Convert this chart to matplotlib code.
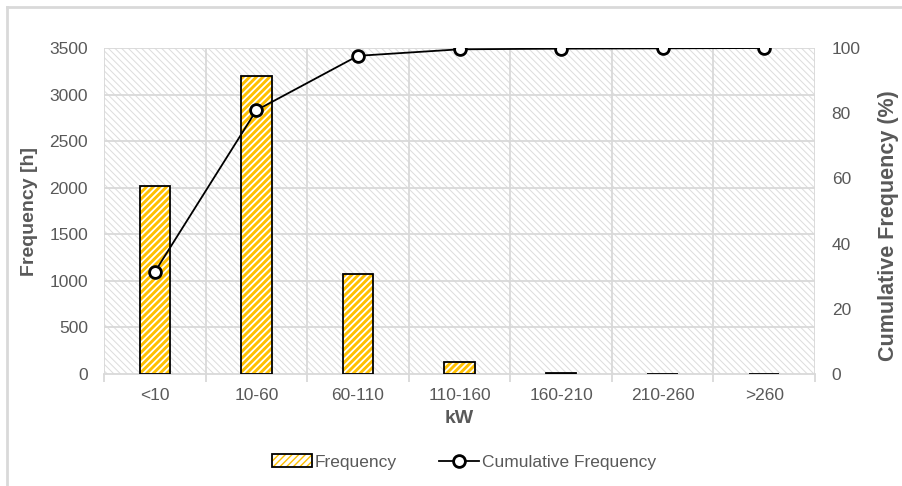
import matplotlib
matplotlib.use("Agg")
import matplotlib.pyplot as plt
from matplotlib.patches import Rectangle, Patch
from matplotlib.lines import Line2D
from matplotlib.legend_handler import HandlerTuple
import numpy as np

plt.rcParams['font.family'] = ['Liberation Sans', 'DejaVu Sans']

categories = ["<10", "10-60", "60-110", "110-160", "160-210", "210-260", ">260"]
frequency = [2020, 3200, 1075, 130, 15, 5, 5]
cumulative = [31.3, 80.9, 97.6, 99.6, 99.8, 99.9, 100.0]
left_ticks = [0, 500, 1000, 1500, 2000, 2500, 3000, 3500]
right_ticks = [0, 20, 40, 60, 80, 100]

TEXT = "#595959"
GRID = "#d9d9d9"
GOLD = "#FFC000"
BAR_HATCH = "/////"
BAR_HATCH_LW = 2.1

fig = plt.figure(figsize=(9.02, 4.86), dpi=100)
W, H = 902, 486
ax = fig.add_axes([104 / W, 1 - 374 / H, (815 - 104) / W, (374 - 48) / H])

x = np.arange(len(categories))
ax.set_xlim(-0.5, len(categories) - 0.5)
ax.set_ylim(0, 3500)

# fine diagonal texture behind the plot area
with plt.rc_context({'hatch.linewidth': 0.7}):
    bg = Rectangle((0, 0), 1, 1, transform=ax.transAxes, facecolor="white",
                   edgecolor="#dcdcdc", hatch="\\\\\\\\\\", linewidth=0, zorder=0)
ax.add_patch(bg)

# grid lines
for yv in left_ticks[1:]:
    ax.axhline(yv, color=GRID, lw=1.3, zorder=1)
for b in np.arange(-0.5, len(categories) + 0.5, 1):
    ax.axvline(b, color=GRID, lw=1.3, zorder=1)

# hatched bars with black outline
with plt.rc_context({'hatch.linewidth': BAR_HATCH_LW}):
    ax.bar(x, frequency, width=0.3, color="white", edgecolor=GOLD,
           hatch=BAR_HATCH, linewidth=0, zorder=2)
ax.bar(x, frequency, width=0.3, fill=False, edgecolor="black",
       linewidth=1.3, zorder=3)

for s in ax.spines.values():
    s.set_visible(False)
ax.spines['bottom'].set_visible(True)
ax.spines['bottom'].set_color(GRID)
ax.spines['bottom'].set_linewidth(1.3)

ax.set_xticks(x)
ax.set_xticklabels(categories)
ax.set_xticks(np.arange(-0.5, len(categories) + 0.5, 1), minor=True)
ax.tick_params(axis='x', which='major', length=0, pad=10, labelsize=12.5, labelcolor=TEXT)
ax.tick_params(axis='x', which='minor', length=6, width=1.3, color=GRID)
ax.set_yticks(left_ticks)
ax.tick_params(axis='y', length=0, pad=11.5, labelsize=12.5, labelcolor=TEXT)

ax.set_xlabel("kW", fontsize=14, fontweight='bold', color=TEXT, labelpad=5)
ax.set_ylabel("Frequency [h]", fontsize=14, fontweight='bold', color=TEXT)
ax.yaxis.set_label_coords((38 - 104) / (815 - 104), 0.5)

ax2 = ax.twinx()
ax2.set_ylim(0, 100)
ax2.set_yticks(right_ticks)
ax2.tick_params(axis='y', length=0, pad=12, labelsize=12.5, labelcolor=TEXT)
for s in ax2.spines.values():
    s.set_visible(False)
ax2.plot(x, cumulative, color="black", lw=1.3, marker="o", markersize=8.5,
         markerfacecolor="white", markeredgecolor="black", markeredgewidth=2, zorder=5)
ax2.set_ylabel("Cumulative Frequency (%)", fontsize=15.5, fontweight='bold', color=TEXT)
ax2.yaxis.set_label_coords((878 - 104) / (815 - 104), (374 - 226) / (374 - 48))

with plt.rc_context({'hatch.linewidth': BAR_HATCH_LW}):
    h1a = Patch(facecolor="white", edgecolor=GOLD, hatch=BAR_HATCH, linewidth=0)
h1b = Patch(facecolor="none", edgecolor="black", linewidth=1.3)
h2 = Line2D([], [], color="black", lw=1.3, marker="o", markersize=8.5,
            markerfacecolor="white", markeredgecolor="black", markeredgewidth=2)
leg = fig.legend([(h1a, h1b), h2], ["Frequency", "Cumulative Frequency"], loc="center",
                 bbox_to_anchor=(464 / W, 1 - 462 / H), ncol=2, frameon=False,
                 fontsize=12.5, handlelength=2.3, handletextpad=0.2, columnspacing=2.4,
                 handler_map={tuple: HandlerTuple(ndivide=1, pad=0)})
for t in leg.get_texts():
    t.set_color(TEXT)

# light frame around the figure
fig.add_artist(Line2D([7 / W, 7 / W], [0, 1 - 7 / H], transform=fig.transFigure,
                      color=GRID, lw=2))
fig.add_artist(Line2D([7 / W, 1], [1 - 7 / H, 1 - 7 / H], transform=fig.transFigure,
                      color=GRID, lw=2))

fig.savefig("out.png", dpi=100)
